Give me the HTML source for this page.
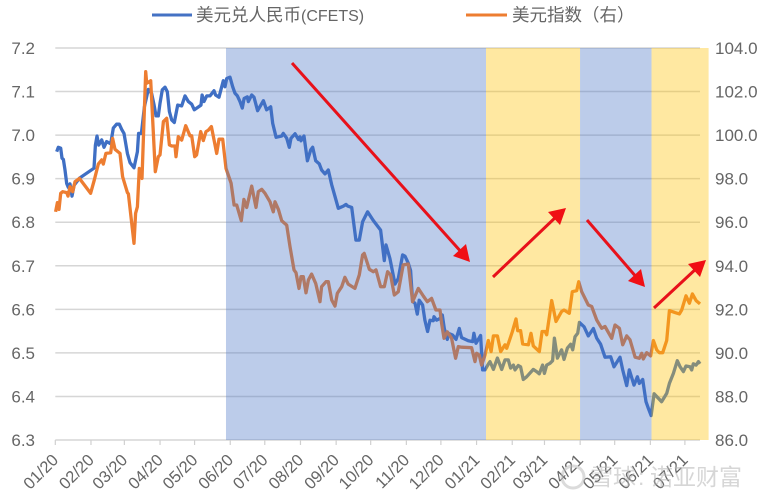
<!DOCTYPE html>
<html lang="zh">
<head>
<meta charset="utf-8">
<title>美元兑人民币与美元指数</title>
<style>
html,body{margin:0;padding:0;background:#fff;}
body{width:763px;height:500px;overflow:hidden;}
svg{display:block;filter:blur(0.35px);}
text{font-family:"Liberation Sans","Noto Sans CJK SC",sans-serif;fill:#666;}
</style>
</head>
<body>
<svg id="chart" width="763" height="500" viewBox="0 0 763 500" xmlns="http://www.w3.org/2000/svg">
  <g id="grid"></g>
  <g id="xaxis"></g>
  <g id="yleft"></g>
  <g id="yright"></g>
  <g id="series"></g>
  <g id="bands"></g>
  <g>
    <g>
      <line x1="152" y1="15" x2="192" y2="15" stroke="#4472c4" stroke-width="3"></line>
      <text x="196" y="21" font-size="17.5">美元兑人民币<tspan font-size="16">(CFETS)</tspan></text>
    </g>
    <g>
      <line x1="466" y1="15" x2="507" y2="15" stroke="#ed7d31" stroke-width="3"></line>
      <text x="512" y="21" font-size="17.5">美元指数（右）</text>
    </g>
  </g>
  <g>
    <g>
      <line x1="292" y1="63" x2="463" y2="254" stroke="#e8111a" stroke-width="3"></line>
      <polygon points="470,262 453,256 466,244" fill="#f00f14"></polygon>
    </g>
    <g>
      <line x1="493" y1="277" x2="558" y2="215" stroke="#e8111a" stroke-width="3"></line>
      <polygon points="566,208 560,225 548,212" fill="#f00f14"></polygon>
    </g>
    <g>
      <line x1="587" y1="220" x2="638" y2="279" stroke="#e8111a" stroke-width="3"></line>
      <polygon points="645,287 628,281 641,269" fill="#f00f14"></polygon>
    </g>
    <g>
      <line x1="654" y1="308" x2="698" y2="267" stroke="#e8111a" stroke-width="3"></line>
      <polygon points="706,260 700,277 688,264" fill="#f00f14"></polygon>
    </g>
  </g>
  <g opacity="0.55">
    <circle cx="573" cy="477" r="11" fill="none" stroke="#bdbdbd" stroke-width="3"></circle>
    <text x="590" y="485" font-size="23" style="fill:#b5b5b5">雪球</text>
    <text x="638" y="485" font-size="23" style="fill:#b5b5b5">:</text>
    <text x="650" y="485" font-size="23" style="fill:#b5b5b5">诺亚财富</text>
  </g>
</svg>
<script>
var leftTicks = [7.2, 7.1, 7.0, 6.9, 6.8, 6.7, 6.6, 6.5, 6.4, 6.3];
var rightTicks = [104, 102, 100, 98, 96, 94, 92, 90, 88, 86];
var monthLabels = ["01/20","02/20","03/20","04/20","05/20","06/20","07/20","08/20","09/20","10/20","11/20","12/20","01/21","02/21","03/21","04/21","05/21","06/21","07/21"];
var monthDays = [0,31,60,91,121,152,182,213,244,274,305,335,366,397,425,456,486,517,547];
var bandStartDays = [148.3,374.2,455.9,518];
var bandEndDays = [374.2,455.9,518,567.6];
var bandKinds = ["fall","rise","fall","rise"];

var cnyDays = [1.2,2.6,4.7,5.8,7,8.4,9.9,11.3,12.8,14.5,16.3,20.9,33.6,34.8,36.2,37.7,40.3,42.3,44.6,48.1,
50.4,53.3,55.6,57.7,59.7,62.6,64.9,68.4,71.3,72.4,74.8,77.4,80.8,83.7,85.8,87.5,89.5,91,93,95.3,
97.3,99.1,101.1,103.4,106.3,109.8,112.7,115.6,118.5,120.8,126.6,127.5,129.2,131.5,134.4,137.9,139.3,142.2,146,147.4,
148.9,151.8,154.1,156.1,158.2,160.5,162.5,164,166.8,167.7,170.6,172.6,175.8,180.8,183.6,187.1,188.9,191.8,196.7,198.1,
201,203.3,204.8,208.3,211.2,212.6,213.5,216.1,219,221.9,223.6,226.2,229.4,231.4,234.3,237.2,240.1,243,245.9,250.3,
252.6,254,257.5,261.2,264.1,267,271.3,276.3,282.6,285.8,287.3,290.7,295.1,298,301.7,303.8,306.7,308.7,310.4,312.5,
314.5,316.2,319.1,321.1,323.5,325.5,328.4,329,331.3,334.2,336.2,338,340.6,341.4,345.2,348.1,351,353,358.8,362.6,
363.7,365.5,369.5,371.2,373.3,376.2,377.7,380.6,384.1,387.8,390.7,393.6,395.6,398,399.4,402.3,404.3,406.6,409.5,415.3,
418.2,420.5,423.4,424.9,426.9,429.8,432.1,433.6,436.2,439.9,442,444.9,447.8,449.5,451.5,453.9,455.3,459.4,463.1,467.5,
470.4,473.8,477.6,482.5,485.4,490.6,493,496.4,498.7,502.8,505.7,507.4,510.3,513.2,515.2,517.6,520.2,523.9,526.8,531.2,
533.5,537,540.4,542.8,545.7,548,551.4,552.9,554.3,556.7,558.7,560.1];
var cnyValues = [6.962,6.972,6.970,6.947,6.944,6.920,6.889,6.880,6.888,6.860,6.885,6.901,6.924,6.977,6.998,6.977,6.989,6.972,6.985,6.980,
7.016,7.025,7.025,7.013,7.004,6.958,6.937,6.925,6.962,7.004,7.004,7.065,7.105,7.096,7.069,7.044,7.044,7.073,7.104,7.110,
7.100,7.054,7.035,7.029,7.069,7.067,7.090,7.077,7.071,7.058,7.069,7.092,7.077,7.090,7.090,7.102,7.092,7.087,7.125,7.111,
7.130,7.133,7.111,7.096,7.090,7.077,7.062,7.084,7.088,7.077,7.092,7.087,7.056,7.079,7.058,7.065,7.027,6.995,6.998,7.004,
6.993,6.972,6.993,7.003,6.990,6.996,6.987,6.998,6.941,6.966,6.972,6.941,6.934,6.920,6.911,6.920,6.886,6.859,6.832,6.837,
6.841,6.837,6.834,6.759,6.759,6.801,6.824,6.804,6.782,6.712,6.748,6.717,6.658,6.671,6.725,6.722,6.706,6.689,6.618,6.614,
6.589,6.621,6.610,6.575,6.549,6.575,6.574,6.583,6.575,6.579,6.587,6.556,6.531,6.545,6.541,6.531,6.556,6.535,6.528,6.526,
6.545,6.522,6.540,6.461,6.461,6.474,6.480,6.462,6.488,6.462,6.484,6.484,6.465,6.472,6.461,6.471,6.468,6.439,6.445,6.462,
6.457,6.452,6.472,6.453,6.472,6.476,6.482,6.534,6.488,6.507,6.485,6.511,6.520,6.507,6.537,6.545,6.570,6.560,6.539,6.556,
6.534,6.520,6.490,6.491,6.468,6.490,6.461,6.425,6.461,6.426,6.445,6.430,6.439,6.388,6.373,6.356,6.406,6.396,6.388,6.407,
6.430,6.453,6.482,6.468,6.457,6.470,6.468,6.461,6.475,6.472,6.480,6.475];

var dxyDays = [0.3,1.8,3.2,4.7,6.4,9.9,11,12.8,15.1,17.1,20.9,30.7,33.9,37.4,40.3,41.7,44,48.1,49.8,51.9,
56.2,58.5,62.6,63.5,68.4,69.8,71.3,73,75.3,78.5,79.4,82.9,86.9,89.5,91,93.9,96.8,99.1,101.1,104,
104.9,106.9,109.8,113.3,117,118.5,121.1,122.8,126.3,128.6,130.9,133,135.6,140.2,142.2,145.4,148.3,152.7,155.3,157.6,
161.6,163.9,166.3,170.6,174.4,176.4,179.3,182.2,186.5,189.4,190.9,193.8,196.7,201,203.9,207.4,209.1,211.7,213.5,215.5,
217.8,219.9,222.7,226.2,230,231.4,235.2,237.2,240.1,243,245,248.8,251.6,254.5,260.3,264.1,267,268.4,272.8,276.3,
278.6,282.6,285.8,288.7,291.3,294.5,298,302.3,306.7,310.4,315.4,319.7,323.2,326.9,330.7,334.2,335.6,337.7,340.6,344.3,
347.8,350.1,353,361.7,364.6,366,368.4,370.4,373.3,376.2,378.6,380.6,384.1,387,390.7,392.2,394.5,397.1,400.3,401.7,
404.3,406.1,411,413.3,415.3,420.5,422.9,425.5,426.9,431.3,435,439.9,442,446.6,449.2,453,454.7,457.3,463.1,466,
470.4,474.7,477.6,483.4,486.3,490.1,493,496.4,499.3,503.7,507.4,509.5,510.9,513.8,517.3,519.6,522.5,524.8,527.7,531.2,
533.5,538.4,542.2,544.2,548,550.9,553.5,556.7,560.1];
var dxyValues = [96.48,96.9,96.59,97.33,97.4,97.36,97.2,97.63,97.4,97.86,98.01,97.33,97.94,98.67,98.86,98.67,99.16,99.19,99.85,99.35,
99.16,98.09,97.36,97.3,95.03,96.41,96.71,98.47,98.01,102.91,102.38,102.5,98.32,99.01,99.09,100.62,100.77,99.55,99.5,99.5,
99.01,99.93,99.77,100.43,99.97,99.97,99.01,99.09,100.16,99.75,100.16,100.23,100.39,99.16,99.81,99.81,98.47,97.79,96.79,96.79,
96.07,97.05,96.68,97.66,96.68,97.4,97.51,97.33,96.94,96.48,96.94,96.59,96.07,95.87,94.88,93.81,93.68,92.96,93.5,93.5,
92.76,93.35,93.62,93.19,92.35,93.04,93.27,93.27,92.43,92.15,92.73,93.04,93.47,93.16,92.96,93.58,94.5,94.57,93.84,93.73,
93.81,93.04,93.04,93.73,93.58,92.66,92.81,94.04,94.08,92.35,92.96,92.61,92.35,92.5,91.97,91.97,91.36,90.67,90.97,90.67,
89.75,90.29,90.26,90.24,89.6,89.98,89.9,89.44,89.9,90.57,90.06,90.78,90.78,90.06,90.37,90.21,90.57,90.98,91.56,91.02,
91.02,90.41,90.37,90.9,90.32,90.06,90.98,90.98,90.83,92.4,91.44,91.9,91.97,91.82,92.81,92.86,93.27,92.81,92.2,92.13,
91.51,91.13,91.21,90.67,91.28,91.13,90.37,90.78,90.6,89.8,89.75,89.98,89.72,90.01,89.86,90.57,90.14,90.01,90.01,90.57,
91.94,91.85,91.79,91.97,92.62,92.28,92.71,92.4,92.25];

var NS = "http://www.w3.org/2000/svg";
var plotLeft = 55.3, plotRight = 700, plotTop = 48, plotBottom = 440, pxPerDay = 1.151;
function xScale(day){ return plotLeft + day * pxPerDay; }
function yLeft(v){ return plotBottom - (v - 6.3) / (7.2 - 6.3) * (plotBottom - plotTop); }
function yRight(v){ return plotBottom - (v - 86) / (104 - 86) * (plotBottom - plotTop); }
function make(tag, attrs, parent){
  var el = document.createElementNS(NS, tag);
  for (var k in attrs) el.setAttribute(k, attrs[k]);
  parent.appendChild(el);
  return el;
}
var grid = document.getElementById("grid");
var xaxis = document.getElementById("xaxis");
var yleftG = document.getElementById("yleft");
var yrightG = document.getElementById("yright");
var series = document.getElementById("series");
var bands = document.getElementById("bands");

leftTicks.forEach(function(t){
  var y = yLeft(t);
  var g = make("line", {x1: plotLeft, x2: plotRight, y1: y, y2: y, stroke: "#d6d6d6", "stroke-width": 1.5}, grid);
  
  
  var lab = make("text", {x: 35, y: y + 6, "text-anchor": "end", "font-size": 17}, yleftG);
  lab.textContent = t.toFixed(1);
  
  
});
rightTicks.forEach(function(t){
  var y = yRight(t);
  var lab = make("text", {x: 715, y: y + 6, "font-size": 17}, yrightG);
  lab.textContent = t.toFixed(1);
  
  
});
monthDays.forEach(function(d, i){
  var x = xScale(d);
  var tick = make("line", {x1: x, x2: x, y1: plotBottom, y2: plotBottom + 5, stroke: "#d0d0d0", "stroke-width": 1.2}, xaxis);
  
  
  var ax = x + 4, ay = 461;
  var lab = make("text", {x: ax, y: ay, "text-anchor": "end", "font-size": 16.5, transform: "rotate(-45 " + ax + " " + ay + ")"}, xaxis);
  lab.textContent = monthLabels[i];
  
  
});
function linePoints(days, values, yFn){
  return days.map(function(d, i){ return xScale(d).toFixed(1) + "," + yFn(values[i]).toFixed(1); }).join(" ");
}
var cnyLine = make("polyline", {points: linePoints(cnyDays, cnyValues, yLeft), fill: "none", stroke: "#3f6fc4", "stroke-width": 3.3, "stroke-linejoin": "round"}, series);


var dxyLine = make("polyline", {points: linePoints(dxyDays, dxyValues, yRight), fill: "none", stroke: "#ed7d31", "stroke-width": 3.3, "stroke-linejoin": "round"}, series);


bandStartDays.forEach(function(d, i){
  var isFall = bandKinds[i] === "fall";
  var x0 = xScale(d), x1 = xScale(bandEndDays[i]);
  var r = make("rect", {x: x0, y: plotTop, width: x1 - x0, height: plotBottom - plotTop, fill: isFall ? "#4472c4" : "#ffc000", "fill-opacity": isFall ? 0.36 : 0.37}, bands);
  
  
});
</script>
</body>
</html>
